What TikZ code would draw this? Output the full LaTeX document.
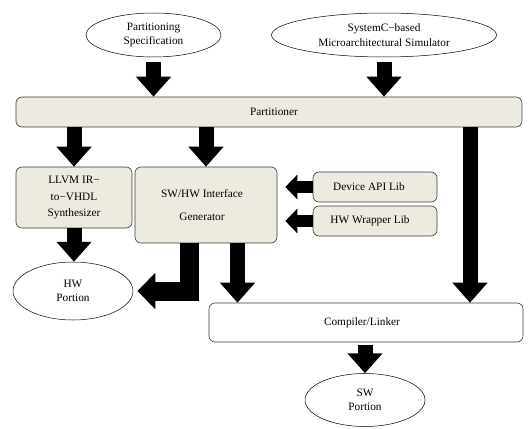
\documentclass[tikz,border=0pt]{standalone}
\usepackage{fontspec}
\setmainfont{Liberation Serif}
\usetikzlibrary{arrows.meta,shapes.geometric}
\definecolor{procfill}{HTML}{EDEAE0}
\definecolor{procline}{HTML}{3A3A3A}

\begin{document}
\begin{tikzpicture}[x=1pt,y=-1pt,
  font=\fontsize{11.3}{14.5}\selectfont,
  proc/.style={draw=procline, line width=0.6pt, rounded corners=6pt, fill=procfill,
    align=center, inner sep=0pt},
  plainbox/.style={proc, fill=white},
  src/.style={draw=black, line width=0.5pt, ellipse, align=center, inner sep=0pt},
  fat/.style={line width=15pt, -{Triangle[width=34pt,length=20pt]}},
  side/.style={line width=12pt, -{Triangle[width=24pt,length=12pt]}},
  bent/.style={line width=19pt, -{Triangle[width=35pt,length=18pt]}},
]
\useasboundingbox (0,0) rectangle (532,428);

% inputs
\node[src, minimum width=135pt, minimum height=44pt] (ps) at (153.5,35)
  {Partitioning\\Specification};
\node[src, minimum width=225pt, minimum height=44pt] (sim) at (384,35)
  {SystemC−based\\Microarchitectural Simulator};

% partitioner bar
\node[proc, minimum width=506pt, minimum height=30pt] (part) at (269,112)
  {\hspace*{10pt}Partitioner};

% middle row
\node[proc, minimum width=116pt, minimum height=61pt] (llvm) at (74,197.5)
  {LLVM IR−\\[3pt]to−VHDL\\[1pt]Synthesizer};
\node[proc, minimum width=142pt, minimum height=76pt] (swhw) at (206,205)
  {SW/HW Interface\hspace*{8pt}\\[9pt]Generator\hspace*{8pt}};
\node[proc, minimum width=124pt, minimum height=30pt] (dev) at (375,187)
  {Device API Lib\hspace*{12pt}};
\node[proc, minimum width=124pt, minimum height=30pt] (wrap) at (375,221)
  {HW Wrapper Lib\hspace*{10pt}};

% outputs
\node[src, minimum width=120pt, minimum height=58pt] (hw) at (73,291) {HW\\Portion};
\node[plainbox, minimum width=314pt, minimum height=39pt] (comp) at (366,322.5)
  {Compiler/Linker\hspace*{8pt}};
\node[src, minimum width=120pt, minimum height=53pt] (sw) at (365,400) {SW\\Portion};

% columns of the off-centre arrows
\coordinate (rx) at (470,0);
\coordinate (cx) at (237.5,0);
\coordinate (ex) at (189.5,0);

% block arrows
\draw[fat, shorten <=5pt] (ps.south) -- (ps.south |- part.north);
\draw[fat, shorten <=5pt] (sim.south) -- (sim.south |- part.north);
\draw[fat] (llvm.north |- part.south) -- (llvm.north);
\draw[fat] (swhw.north |- part.south) -- (swhw.north);
\draw[fat] (part.south -| rx) -- (comp.north -| rx);
\draw[side, shorten >=8pt] (dev.west) -- (dev.west -| swhw.east);
\draw[side, shorten >=8pt] (wrap.west) -- (wrap.west -| swhw.east);
\draw[fat] (llvm.south) -- (llvm.south |- hw.north);
\draw[bent] (swhw.south -| ex) |- ([xshift=4pt]hw.east);
\draw[fat] (swhw.south -| cx) -- (comp.north -| cx);
\draw[fat, shorten <=3pt] (sw.north |- comp.south) -- (sw.north);
\end{tikzpicture}
\end{document}
